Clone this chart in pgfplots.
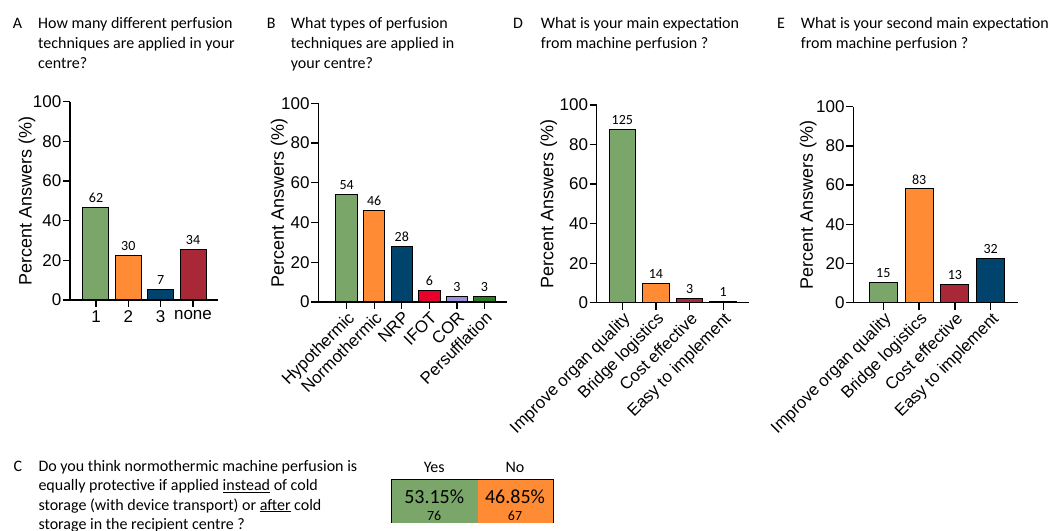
\documentclass[border=0pt]{standalone}
\usepackage{pgfplots}
\pgfplotsset{compat=1.18}
\usepackage{fontspec}
\setmainfont{Liberation Sans}
\newfontfamily\calfont{Carlito}
\definecolor{cgreen}{HTML}{7AA66A}
\definecolor{corange}{HTML}{FF8C35}
\definecolor{cnavy}{HTML}{00446E}
\definecolor{cdred}{HTML}{A92837}
\definecolor{cred}{HTML}{E8002D}
\definecolor{clav}{HTML}{9A90DC}
\definecolor{cdgreen}{HTML}{2C7A22}
\pgfplotsset{
 panel/.style={
  scale only axis, anchor=south west,
  axis x line=bottom, axis y line=left,
  axis line style={line width=1.5pt,-},
  ymin=0, ymax=100, ytick={0,20,40,60,80,100},
  tick align=outside, major tick length=7pt,
  every tick/.style={black, line width=1.3pt},
  tick label style={font=\fontsize{17}{19}\selectfont},
  /pgf/number format/assume math mode=true,
  ylabel={Percent Answers (\%)},
  label style={font=\fontsize{18}{20}\selectfont},
  clip=false,
  nodes near coords, point meta=explicit symbolic,
  every node near coord/.append style={font=\calfont\fontsize{14}{16}\selectfont, yshift=1pt},
  yticklabel style={inner sep=1.5pt},
 },
 mybar/.style={ybar, fill=#1, draw=black, line width=1pt, bar shift=0pt},
 rotlab/.style={xticklabel style={rotate=45, anchor=north east, inner sep=1pt, font=\fontsize{16.8}{18}\selectfont}},
}
\newcommand{\tl}[3]{\node[anchor=base west, inner sep=0pt, font=\calfont\fontsize{16}{19}\selectfont] at (#1pt,#2pt) {#3};}
\begin{document}
\begin{tikzpicture}
\useasboundingbox (0,0) rectangle (1056pt,530pt);
% ---------- Panel A
\begin{axis}[panel, at={(70pt,230pt)}, width=148pt, height=198.3pt,
  xmin=-0.804, xmax=3.773, xtick={0,1,2,3}, xticklabels={1,2,3,none},
  bar width=26pt, ylabel style={at={(axis description cs:-0.29,0.5)}, anchor=center}]
\addplot[mybar=cgreen] coordinates {(0,46.62) [62]};
\addplot[mybar=corange] coordinates {(1,22.56) [30]};
\addplot[mybar=cnavy] coordinates {(2,5.26) [7]};
\addplot[mybar=cdred] coordinates {(3,25.56) [34]};
\end{axis}
% ---------- Panel B
\begin{axis}[panel, rotlab, at={(318.3pt,228pt)}, width=188.4pt, height=198.7pt,
  xmin=-1.03, xmax=5.81, xtick={0,1,2,3,4,5},
  xticklabels={Hypothermic,Normothermic,NRP,IFOT,COR,Persufflation},
  bar width=21.5pt, ylabel style={at={(axis description cs:-0.207,0.5)}, anchor=center}]
\addplot[mybar=cgreen] coordinates {(0,53.9) [54]};
\addplot[mybar=corange] coordinates {(1,45.9) [46]};
\addplot[mybar=cnavy] coordinates {(2,27.8) [28]};
\addplot[mybar=cred] coordinates {(3,5.9) [6]};
\addplot[mybar=clav] coordinates {(4,3.0) [3]};
\addplot[mybar=cdgreen] coordinates {(5,3.0) [3]};
\end{axis}
% ---------- Panel D
\begin{axis}[panel, rotlab, at={(596.7pt,227.3pt)}, width=152.6pt, height=197.7pt,
  xmin=-0.761, xmax=3.776, xtick={0,1,2,3},
  xticklabels={Improve organ quality,Bridge logistics,Cost effective,Easy to implement},
  bar width=26.5pt, ylabel style={at={(axis description cs:-0.315,0.5)}, anchor=center}]
\addplot[mybar=cgreen] coordinates {(0,87.41) [125]};
\addplot[mybar=corange] coordinates {(1,9.79) [14]};
\addplot[mybar=cdred] coordinates {(2,2.10) [3]};
\addplot[mybar=cnavy] coordinates {(3,0.70) [1]};
\end{axis}
% ---------- Panel E
\begin{axis}[panel, rotlab, at={(853.3pt,227.3pt)}, width=165pt, height=196pt,
  xmin=-0.838, xmax=3.77, xtick={0,1,2,3},
  xticklabels={Improve organ quality,Bridge logistics,Cost effective,Easy to implement},
  bar width=28pt, ylabel style={at={(axis description cs:-0.273,0.5)}, anchor=center}]
\addplot[mybar=cgreen] coordinates {(0,10.49) [15]};
\addplot[mybar=corange] coordinates {(1,58.04) [83]};
\addplot[mybar=cdred] coordinates {(2,9.09) [13]};
\addplot[mybar=cnavy] coordinates {(3,22.38) [32]};
\end{axis}
% ---------- Panel C table
\begin{axis}[at={(391.7pt,7.3pt)}, anchor=south west, scale only axis,
  width=161.6pt, height=42.7pt, xmin=0, xmax=100, ymin=-0.5, ymax=0.5,
  hide axis, xbar stacked, bar width=42.7pt, clip=false]
\addplot[fill=cgreen, draw=none] coordinates {(53.15,0)};
\addplot[fill=corange, draw=none] coordinates {(46.85,0)};
\draw[line width=1.5pt] (rel axis cs:0,0) rectangle (rel axis cs:1,1);
\end{axis}
\node[anchor=base, font=\calfont\fontsize{16}{19}\selectfont] at (434.2pt,57.3pt) {Yes};
\node[anchor=base, font=\calfont\fontsize{16}{19}\selectfont] at (515pt,57.3pt) {No};
\node[anchor=base, font=\calfont\fontsize{20}{22}\selectfont] at (434.2pt,26.7pt) {53.15\%};
\node[anchor=base, font=\calfont\fontsize{20}{22}\selectfont] at (515pt,26.7pt) {46.85\%};
\node[anchor=base, font=\calfont\fontsize{14}{16}\selectfont] at (434.2pt,10pt) {76};
\node[anchor=base, font=\calfont\fontsize{14}{16}\selectfont] at (515pt,10pt) {67};
% ---------- Titles
\tl{12.7}{501.7}{A}
\tl{38}{501.7}{How many different perfusion}
\tl{38}{481.7}{techniques are applied in your}
\tl{38}{461.7}{centre?}
\tl{266.7}{501.7}{B}
\tl{290.7}{501.7}{What types of perfusion}
\tl{290.7}{481.7}{techniques are applied in}
\tl{290.7}{461.7}{your centre?}
\tl{513}{501.7}{D}
\tl{540.7}{501.7}{What is your main expectation}
\tl{540.7}{481.7}{from machine perfusion ?}
\tl{777}{501.7}{E}
\tl{800.7}{501.7}{What is your second main expectation}
\tl{800.7}{481.7}{from machine perfusion ?}
\tl{13.3}{59}{C}
\tl{38.3}{59}{Do you think normothermic machine perfusion is}
\tl{38.3}{39.5}{equally protective if applied \underline{instead} of cold}
\tl{38.3}{20}{storage (with device transport) or \underline{after} cold}
\tl{38.3}{0.5}{storage in the recipient centre ?}
\end{tikzpicture}
\end{document}
